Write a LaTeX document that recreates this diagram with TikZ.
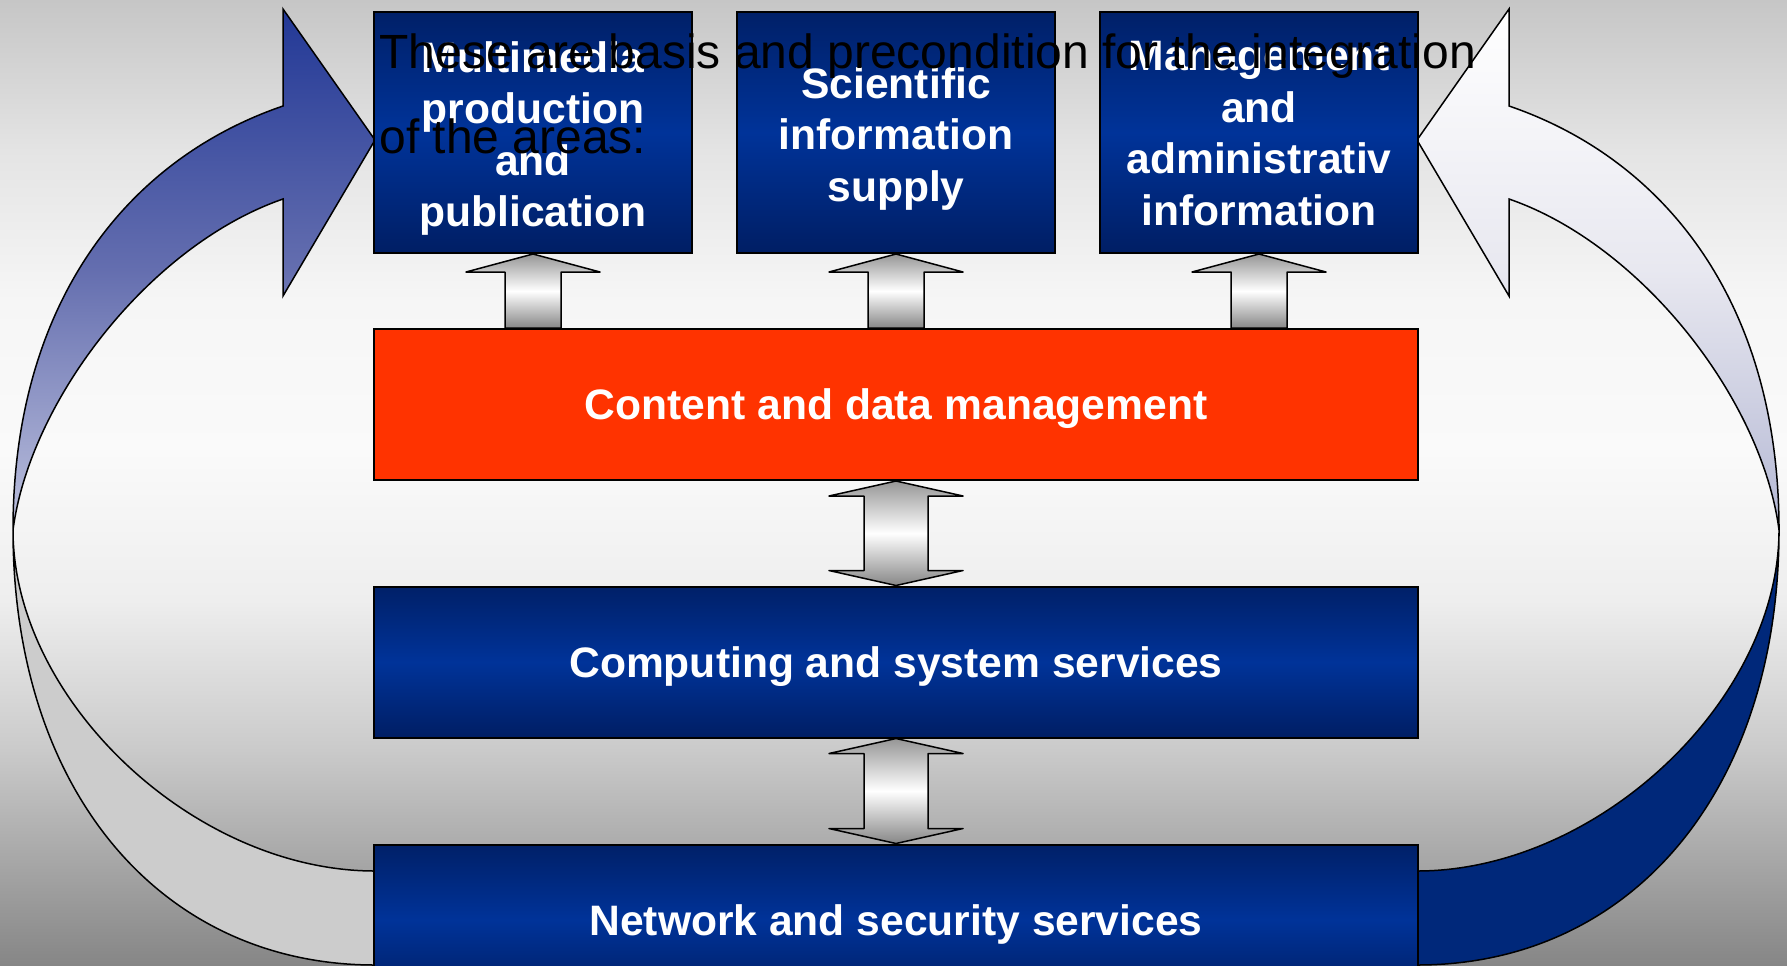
\documentclass[tikz,border=0pt]{standalone}
\usepackage{fontspec}
\setmainfont{Liberation Sans}
\usetikzlibrary{calc}
\definecolor{bgA}{RGB}{198,198,198}
\definecolor{bgB}{RGB}{228,228,228}
\definecolor{bgC}{RGB}{246,246,246}
\definecolor{bgD}{RGB}{250,250,250}
\definecolor{bgE}{RGB}{238,238,238}
\definecolor{bgF}{RGB}{202,202,202}
\definecolor{bgG}{RGB}{134,134,134}
\definecolor{bxtop}{RGB}{0,32,104}
\definecolor{bxmid}{RGB}{0,51,153}
\definecolor{bxbot}{RGB}{0,30,100}
\definecolor{orng}{RGB}{255,51,0}
\definecolor{arrgA}{RGB}{150,150,150}
\definecolor{arrgB}{RGB}{135,135,135}
\definecolor{lupA}{RGB}{34,56,150}
\definecolor{lupM}{RGB}{100,110,175}
\definecolor{lupB}{RGB}{190,194,222}
\definecolor{lback}{RGB}{204,204,204}
\definecolor{rupA}{RGB}{255,255,255}
\definecolor{rupM}{RGB}{232,232,240}
\definecolor{rupB}{RGB}{180,184,212}
\definecolor{rback}{RGB}{0,40,122}
\newcommand\bxfont{\fontsize{21.3}{25.75}\selectfont\bfseries}
\newcommand\ovfont{\fontsize{24}{43}\selectfont}
\begin{document}
\begin{tikzpicture}[x=0.5pt,y=-0.5pt,
  bluebox/.style={draw=black, line width=1pt, top color=bxtop, bottom color=bxbot, middle color=bxmid, inner sep=0pt},
  topbox/.style={bluebox, minimum width=159pt, minimum height=120.5pt},
  widebox/.style={minimum width=522pt, minimum height=75.5pt, inner sep=0pt, text=white, font=\bxfont, text height=15pt, text depth=0pt},
  boxlabel/.style={anchor=north, inner sep=0pt, align=center, text=white, font=\bxfont},
  garrow/.style={draw=black, line width=0.75pt, line join=round, top color=arrgA, bottom color=arrgB, middle color=white},
  curvedge/.style={draw=black, line width=0.75pt},
  overlay text/.style={anchor=base west, inner sep=0pt, text=black, font=\ovfont}]

\useasboundingbox (0,0) rectangle (1787,965);
\clip (0,0) rectangle (1787,965);

% background
\shade[top color=bgA, bottom color=bgB] (0,0) rectangle (1787,151);
\shade[top color=bgB, bottom color=bgC] (0,150) rectangle (1787,301);
\shade[top color=bgC, bottom color=bgD] (0,300) rectangle (1787,451);
\shade[top color=bgD, bottom color=bgE] (0,450) rectangle (1787,601);
\shade[top color=bgE, bottom color=bgF] (0,600) rectangle (1787,751);
\shade[top color=bgF, bottom color=bgG] (0,750) rectangle (1787,965);

% left curved arrow
\draw[curvedge, fill=lback] (13,530) .. controls (13,790) and (160,965) .. (375,965)
  -- (375,871) .. controls (194,871) and (13,700) .. (13,530) -- cycle;
\draw[curvedge, top color=lupA, bottom color=lupB, middle color=lupM]
  (13,530) .. controls (13,305) and (125,160) .. (283,106) -- (283,9) -- (375,140)
  -- (283,296) -- (283,199) .. controls (150,245) and (30,400) .. (13,530) -- cycle;

% right curved arrow
\draw[curvedge, fill=rback] (1779,530) .. controls (1779,790) and (1632,965) .. (1417,965)
  -- (1417,871) .. controls (1598,871) and (1779,700) .. (1779,530) -- cycle;
\draw[curvedge, top color=rupA, bottom color=rupB, middle color=rupM]
  (1779,530) .. controls (1779,305) and (1667,160) .. (1509,106) -- (1509,9) -- (1417,140)
  -- (1509,296) -- (1509,199) .. controls (1642,245) and (1762,400) .. (1779,530) -- cycle;

% boxes
\node[topbox] (b1) at (533,132.5) {};
\node[topbox] (b2) at (896,132.5) {};
\node[topbox] (b3) at (1259,132.5) {};
\node[widebox, draw=black, line width=1pt, fill=orng] (cdm) at (896,404.5) {Content and data management};
\node[widebox, bluebox] (csv) at (896,662) {Computing and system services};
\node[widebox, bluebox] (nsv) at (896,920) {Network and security services};

\node[boxlabel] (l1) at (533,41) {Multimedia\\production\\and\\publication};
\node[boxlabel] (l2) at (896,67) {Scientific\\information\\supply};
\node[boxlabel] (l3) at (1259,41) {Management\\and\\administrativ\\information};

% block arrows from the content box up to the three areas
\foreach \b in {b1,b2,b3} {
  \draw[garrow] (\b.south) -- ++(67,18) -- ++(-39,0) -- ($(\b.south|-cdm.north)+(28,0)$)
    -- ++(-56,0) -- ($(\b.south)+(-28,18)$) -- ++(-39,0) -- cycle;
}
% double block arrows
\draw[garrow] (cdm.south) -- ++(67,15) -- ++(-35,0) -- ($(cdm.south|-csv.north)+(32,-15)$)
  -- ++(35,0) -- (cdm.south|-csv.north) -- ++(-67,-15) -- ++(35,0)
  -- ($(cdm.south)+(-32,15)$) -- ++(-35,0) -- cycle;
\draw[garrow] (csv.south) -- ++(67,15) -- ++(-35,0) -- ($(csv.south|-nsv.north)+(32,-15)$)
  -- ++(35,0) -- (csv.south|-nsv.north) -- ++(-67,-15) -- ++(35,0)
  -- ($(csv.south)+(-32,15)$) -- ++(-35,0) -- cycle;

% overlaid heading text
\node[overlay text] (ov1) at (379,68) {These are basis and precondition for the integration};
\node[overlay text] (ov2) at (379,153) {of the areas:};
\end{tikzpicture}
\end{document}
